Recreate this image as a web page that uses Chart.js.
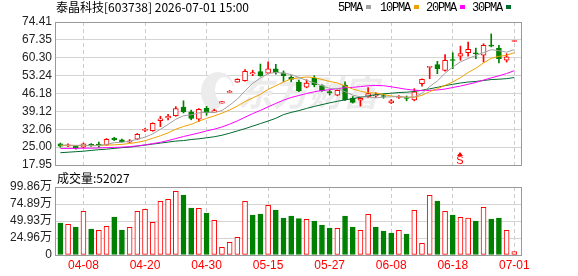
<!DOCTYPE html>
<html lang="zh-CN">
<head>
<meta charset="UTF-8">
<title>泰晶科技 | K线</title>
<script src="https://cdn.jsdelivr.net/npm/chart.js"></script>
<style>
  body { margin: 0; background: #fff; overflow: hidden; }
  #wrap { position: relative; width: 578px; height: 276px; font-family: "Noto Sans CJK SC", sans-serif; }
  #wrap canvas { position: absolute; left: 0; top: 0; }
  .txt { position: absolute; font-size: 12px; line-height: 14px; color: #000; white-space: nowrap; }
  .leg { position: absolute; top: 1px; font-family: "Liberation Mono", monospace; font-size: 12px; letter-spacing: -1.2px; line-height: 14px; }
  .sq { display: inline-block; width: 5px; height: 4px; margin-left: 4px; vertical-align: 2px; }
</style>
</head>
<body>
<div id="wrap">
  <canvas id="kline" width="578" height="276"></canvas>
  <canvas id="volume" width="578" height="276"></canvas>
  <div class="txt" id="titulo" style="left:56px; top:0px;"></div>
  <div class="leg" style="left:338px;">5PMA<span class="sq" style="background:#a0a0a0"></span></div>
  <div class="leg" style="left:380px;">10PMA<span class="sq" style="background:#f0a000"></span></div>
  <div class="leg" style="left:426px;">20PMA<span class="sq" style="background:#ff00ff"></span></div>
  <div class="leg" style="left:472px;">30PMA<span class="sq" style="background:#006b2e"></span></div>
  <div class="txt" id="volTitle" style="left:57px; top:171px;"></div>
</div>

<script>
// dados
const stockName = '泰晶科技[603738] 2026-07-01 15:00';

const dates = ['04-02','04-03','04-07','04-08','04-09','04-10','04-13','04-14','04-15','04-16',
  '04-17','04-20','04-21','04-22','04-23','04-24','04-27','04-28','04-29','04-30',
  '05-06','05-07','05-08','05-11','05-12','05-13','05-14','05-15','05-18','05-19',
  '05-20','05-21','05-22','05-25','05-26','05-27','05-28','05-29','06-01','06-02',
  '06-03','06-04','06-05','06-08','06-09','06-10','06-11','06-12','06-15','06-16',
  '06-17','06-18','06-22','06-23','06-24','06-25','06-26','06-29','06-30','07-01'];

const open = [26.3,25.5,25.4,25.0,26.0,26.0,25.9,28.6,27.9,27.0,
  28.1,31.6,31.5,35.5,36.5,37.4,40.8,38.9,36.0,40.3,
  38.9,42.4,46.6,50.7,51.2,53.9,54.8,54.2,55.9,54.3,
  52.6,50.7,48.7,52.2,49.3,46.9,45.5,49.5,44.3,43.5,
  44.9,45.2,45.4,42.5,44.6,44.6,43.6,50.1,56.5,57.6,
  55.3,59.6,60.9,62.3,62.2,61.3,65.2,64.1,59.3,66.7];
const high = [26.6,26.3,25.6,26.6,26.4,27.0,28.4,28.9,28.2,28.0,
  30.4,32.4,34.6,37.2,38.0,41.0,43.3,39.6,40.2,41.1,
  40.0,43.0,47.4,52.0,55.6,55.4,57.8,58.7,57.7,55.1,
  53.2,51.5,51.6,53.2,49.6,47.6,47.6,50.8,45.0,44.6,
  48.5,46.5,45.9,43.8,45.4,45.2,48.1,52.0,56.9,58.9,
  61.5,62.3,64.9,66.5,64.1,65.8,69.7,65.2,61.9,66.8];
const low = [25.0,25.2,24.2,24.8,25.3,24.9,25.7,27.6,27.0,26.8,
  27.9,31.1,31.3,33.1,35.7,37.2,38.5,35.8,35.2,37.6,
  38.8,42.4,46.6,50.6,51.0,53.2,53.0,54.0,53.8,50.9,
  50.8,46.9,48.4,48.8,47.0,45.6,45.3,43.4,42.4,41.2,
  44.6,44.6,44.3,42.2,44.2,43.3,43.3,49.1,52.0,54.0,
  55.0,56.0,59.3,60.9,59.9,58.6,64.6,58.3,58.6,66.7];
const close = [25.4,25.8,24.6,26.3,25.7,25.8,28.1,27.9,27.2,27.5,
  30.1,32.0,34.4,36.2,37.2,40.2,38.9,36.3,39.9,38.6,
  39.4,43.0,47.0,51.8,54.9,54.4,53.2,55.9,54.3,53.2,
  51.7,47.3,50.3,49.6,47.3,46.5,47.4,43.6,42.7,44.3,
  46.1,45.6,45.0,43.3,45.0,44.2,46.8,51.8,56.9,56.0,
  59.3,59.2,61.9,63.6,61.8,65.2,64.9,59.9,60.7,66.8];

// volume em 万
const volume = [47.0,45.0,41.1,64.1,38.2,36.2,42.1,55.8,36.7,40.6,
  64.1,67.1,48.0,78.8,81.7,93.5,88.1,69.0,68.5,61.7,
  50.9,11.3,18.6,25.9,78.8,58.7,60.2,72.9,66.1,54.3,
  57.3,53.4,52.4,49.9,44.1,39.7,39.2,57.3,41.1,36.2,
  59.7,41.1,35.2,32.3,36.2,30.8,65.6,17.1,87.6,79.3,
  64.1,58.7,55.3,54.3,49.9,70.0,52.9,54.3,36.2,5.2027];

// inicio das medias (antes da janela visivel)
const ma5Head = [25.8,25.8,25.7,25.8];
const ma10Head = [25.6,25.6,25.6,25.6,25.6,25.7,25.8,25.9,26.1];
const ma20Head = [24.5,24.5,24.5,24.6,24.6,24.7,24.8,24.9,25.0,25.2,
  25.5,25.9,26.4,26.9,27.6,28.4,29.2,29.9,30.6];
const ma30Head = [22.8,23.0,23.2,23.4,23.7,24.0,24.2,24.5,24.8,25.0,
  25.4,25.8,26.2,26.6,27.0,27.4,27.6,28.0,28.3,28.7,
  29.1,29.7,30.5,31.4,32.3,33.3,34.3,35.3,36.4];

const priceTicks = [17.95,25.00,32.06,39.12,46.18,53.24,60.30,67.35,74.41];
const volTickVals = [0,24.96,49.93,74.89,99.86];
const volTickLabels = ['0','24.96万','49.93万','74.89万','99.86万'];
const labelIdx = [3,11,19,27,35,43,51,59];
const signalIdx = [52];
const signalText = ['S'];

const RED = '#ff0000';
const GREEN = '#008000';

document.getElementById('titulo').textContent = stockName;
document.getElementById('volTitle').textContent = '成交量:' + Math.round(volume[volume.length - 1] * 10000);

function media(n, head) {
  return close.map((c, i) => {
    if (i < n - 1) return head[i];
    let s = 0;
    for (let k = i - n + 1; k <= i; k++) s += close[k];
    return s / n;
  });
}

const sobe = close.map((c, i) => c >= open[i]);
const volSobe = close.map((c, i) => c >= (i > 0 ? close[i - 1] : open[i]));

function linha(valores, cor, ordem) {
  return {
    type: 'line',
    data: valores.map((v, i) => ({ x: i, y: v })),
    borderColor: cor,
    borderWidth: 1,
    pointRadius: 0,
    tension: 0,
    order: ordem
  };
}

const eixoX = (mostrarTicks) => ({
  type: 'linear', min: -0.7, max: 60, offset: false,
  afterBuildTicks: s => { s.ticks = labelIdx.map(v => ({ value: v })); },
  afterFit: s => { s.height = mostrarTicks ? 21 : 0; },
  ticks: {
    display: mostrarTicks, autoSkip: false, maxRotation: 0, padding: 3,
    color: RED, font: { family: 'Liberation Sans', size: 12 },
    callback: v => dates[v]
  },
  grid: { color: '#cccccc', lineWidth: 1, drawTicks: false, offset: false },
  border: { display: false, dash: [4, 3] }
});

const moldura = {
  id: 'moldura',
  beforeDatasetsDraw(chart, args, opts) {
    const a = chart.chartArea, ctx = chart.ctx;
    ctx.save();
    if (opts.marca) {
      ctx.fillStyle = '#ececec';
      ctx.font = 'italic bold 35px "Noto Sans CJK SC"';
      ctx.textBaseline = 'middle';
      ctx.fillText('东方财富', 238, 93);
      ctx.beginPath();
      ctx.ellipse(218, 92, 17, 20, 0, Math.PI * 0.55, Math.PI * 1.9);
      ctx.ellipse(224, 90, 9, 13, 0, Math.PI * 1.9, Math.PI * 0.55, true);
      ctx.closePath();
      ctx.fill();
    }
    ctx.strokeStyle = '#999999';
    ctx.lineWidth = 1;
    ctx.strokeRect(a.left + 0.5, a.top + 0.5, a.right - a.left - 1, a.bottom - a.top);
    ctx.restore();
  },
  afterDatasetsDraw(chart, args, opts) {
    if (!opts.marca) return;
    const ctx = chart.ctx, xs = chart.scales.x;
    ctx.save();
    ctx.fillStyle = RED;
    signalIdx.forEach((idx, k) => {
      const x = Math.round(xs.getPixelForValue(idx));
      ctx.beginPath();
      ctx.moveTo(x, 152);
      ctx.lineTo(x + 3, 156);
      ctx.lineTo(x - 3, 156);
      ctx.closePath();
      ctx.fill();
      ctx.font = '11px "Liberation Sans"';
      ctx.textAlign = 'center';
      ctx.textBaseline = 'middle';
      ctx.fillText(signalText[k], x, 161);
    });
    ctx.restore();
  }
};

new Chart(document.getElementById('kline'), {
  data: {
    datasets: [
      linha(media(5, ma5Head), '#a0a0a0', 1),
      linha(media(10, ma10Head), '#f0a000', 2),
      linha(media(20, ma20Head), '#ff00ff', 3),
      linha(media(30, ma30Head), '#006b2e', 4),
      {
        type: 'bar',
        data: open.map((o, i) => ({ x: i, y: [o, close[i]] })),
        backgroundColor: sobe.map(u => u ? '#ffffff' : GREEN),
        borderColor: sobe.map(u => u ? RED : GREEN),
        borderWidth: 1, borderSkipped: false,
        barThickness: 5, minBarLength: 1, grouped: false,
        order: 10
      },
      {
        type: 'bar',
        data: low.map((l, i) => ({ x: i, y: [l, high[i]] })),
        backgroundColor: sobe.map(u => u ? RED : GREEN),
        borderWidth: 0,
        barThickness: 1, minBarLength: 1, grouped: false,
        order: 11
      }
    ]
  },
  options: {
    responsive: false, animation: false,
    layout: { padding: { left: 0, right: 56, top: 22, bottom: 111 } },
    plugins: { legend: { display: false }, tooltip: { enabled: false }, moldura: { marca: true } },
    scales: {
      x: eixoX(false),
      y: {
        type: 'linear', min: 17.95, max: 74.41,
        afterBuildTicks: s => { s.ticks = priceTicks.map(v => ({ value: v })); },
        afterFit: s => { s.width = 55; },
        ticks: { autoSkip: false, padding: 3, color: '#222', font: { family: 'Liberation Sans', size: 12 }, callback: v => v.toFixed(2) },
        grid: { color: '#d4d4d4', drawTicks: false },
        border: { display: false }
      }
    }
  },
  plugins: [moldura]
});

new Chart(document.getElementById('volume'), {
  type: 'bar',
  data: {
    datasets: [{
      data: volume.map((v, i) => ({ x: i, y: v })),
      backgroundColor: volSobe.map(u => u ? '#ffffff' : GREEN),
      borderColor: volSobe.map(u => u ? RED : GREEN),
      borderWidth: 1, borderSkipped: false,
      barThickness: 5, minBarLength: 1, grouped: false
    }]
  },
  options: {
    responsive: false, animation: false,
    layout: { padding: { left: 0, right: 56, top: 187, bottom: 0 } },
    plugins: { legend: { display: false }, tooltip: { enabled: false }, moldura: { marca: false } },
    scales: {
      x: eixoX(true),
      y: {
        type: 'linear', min: 0, max: 99.86,
        afterBuildTicks: s => { s.ticks = volTickVals.map(v => ({ value: v })); },
        afterFit: s => { s.width = 55; },
        ticks: { autoSkip: false, padding: 3, color: '#222', font: { family: 'Liberation Sans', size: 12 }, callback: (v, i) => volTickLabels[i] },
        grid: { color: '#d4d4d4', drawTicks: false },
        border: { display: false }
      }
    }
  },
  plugins: [moldura]
});
</script>
</body>
</html>
